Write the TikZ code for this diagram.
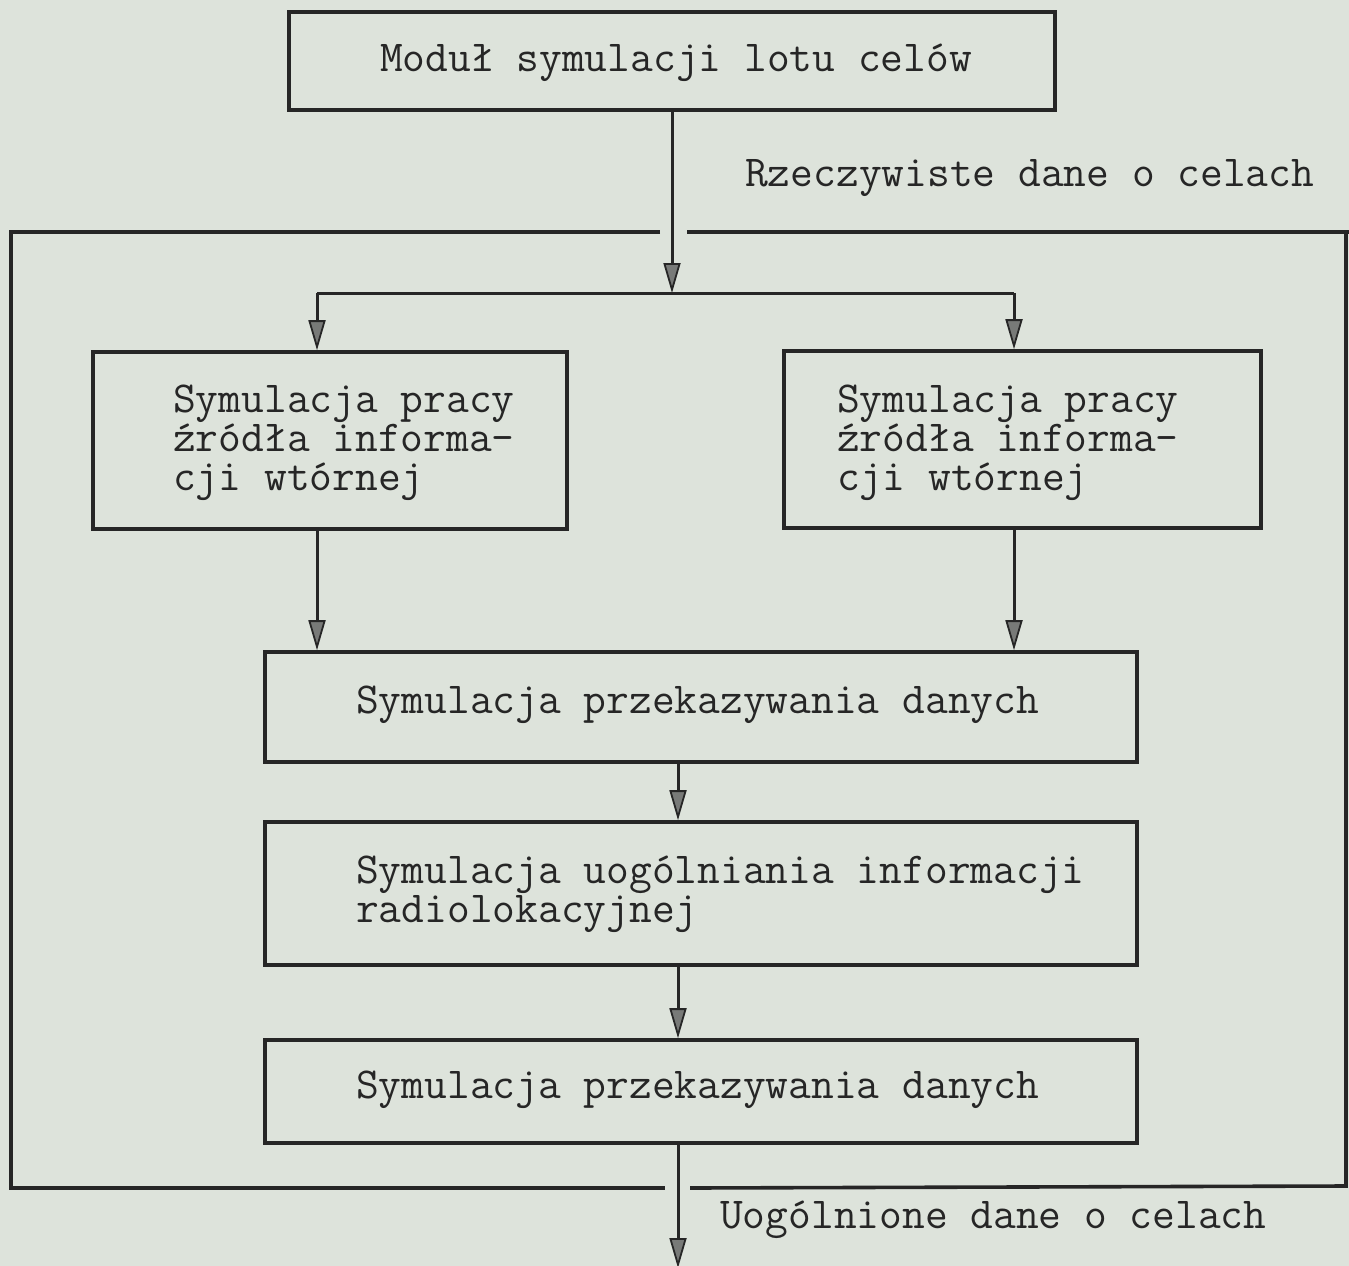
\documentclass[tikz,border=0pt]{standalone}
\usepackage{fontspec}
\usetikzlibrary{arrows.meta}
\definecolor{paper}{RGB}{221,227,219}
\definecolor{ink}{RGB}{38,38,38}
\definecolor{headfill}{RGB}{120,122,120}
\begin{document}
\begin{tikzpicture}[x=1pt,y=-1pt,
  box/.style={draw=ink,line width=3.6pt,rectangle,inner sep=0pt},
  lbl/.style={text=ink,inner sep=0pt,align=left,font=\ttfamily\fontsize{44.2}{39}\selectfont},
  arr/.style={draw=ink,line width=3pt,-{Triangle[length=30pt,width=17pt,fill=headfill,line width=1.8pt]}},
  conn/.style={draw=ink,line width=3pt},
  frame/.style={draw=ink,line width=3.6pt}]
\fill[paper] (0,0) rectangle (1349,1266);
\useasboundingbox (0,0) rectangle (1349,1266);
% boxes
\node[box,minimum width=766pt,minimum height=98pt] (top) at (672,61) {};
\node[lbl] (ttop) at (676,63) {Moduł symulacji lotu celów};
\node[box,minimum width=474pt,minimum height=177pt] (L) at (330,440.5) {};
\node[lbl,anchor=west] (tL) at (173,443) {Symulacja pracy\\źródła informa-\\cji wtórnej};
\node[box,minimum width=477pt,minimum height=177pt] (R) at (1022.5,439.5) {};
\node[lbl,anchor=west] (tR) at (837,443) {Symulacja pracy\\źródła informa-\\cji wtórnej};
\node[box,minimum width=872pt,minimum height=110pt] (M1) at (701,707) {};
\node[lbl,anchor=west] (tM1) at (356,705) {Symulacja przekazywania danych};
\node[box,minimum width=872pt,minimum height=143pt] (M2) at (701,893.5) {};
\node[lbl,anchor=west] (tM2) at (356,894) {Symulacja uogólniania informacji\\radiolokacyjnej};
\node[box,minimum width=872pt,minimum height=103pt] (M3) at (701,1091.5) {};
\node[lbl,anchor=west] (tM3) at (356,1090) {Symulacja przekazywania danych};
% labels
\node[lbl,anchor=west] (in) at (745,178) {Rzeczywiste dane o celach};
\node[lbl,anchor=west] (outl) at (720,1220) {Uogólnione dane o celach};
% coordinates
\coordinate (j1) at (672,293);
\coordinate (lx) at (317,0);
\coordinate (rx) at (1014,0);
\coordinate (cx) at (678,0);
\coordinate (out) at (678,1268);
% connectors
\draw[arr] (top.south) -- (j1);
\draw[conn] (lx |- j1) -- (rx |- j1);
\draw[arr] (lx |- j1) -- (lx |- L.north);
\draw[arr] (rx |- j1) -- (rx |- R.north);
\draw[arr] (lx |- L.south) -- (lx |- M1.north);
\draw[arr] (rx |- R.south) -- (rx |- M1.north);
\draw[arr] (cx |- M1.south) -- (cx |- M2.north);
\draw[arr] (cx |- M2.south) -- (cx |- M3.north);
\draw[arr] (cx |- M3.south) -- (out);
% enclosing frame
\draw[frame] (660,232) -- (11,232) -- (11,1188) -- (665,1188);
\draw[frame] (687,232) -- (1349,232);
\draw[frame] (690,1188) -- (1346,1186) -- (1346,232);
\end{tikzpicture}
\end{document}
